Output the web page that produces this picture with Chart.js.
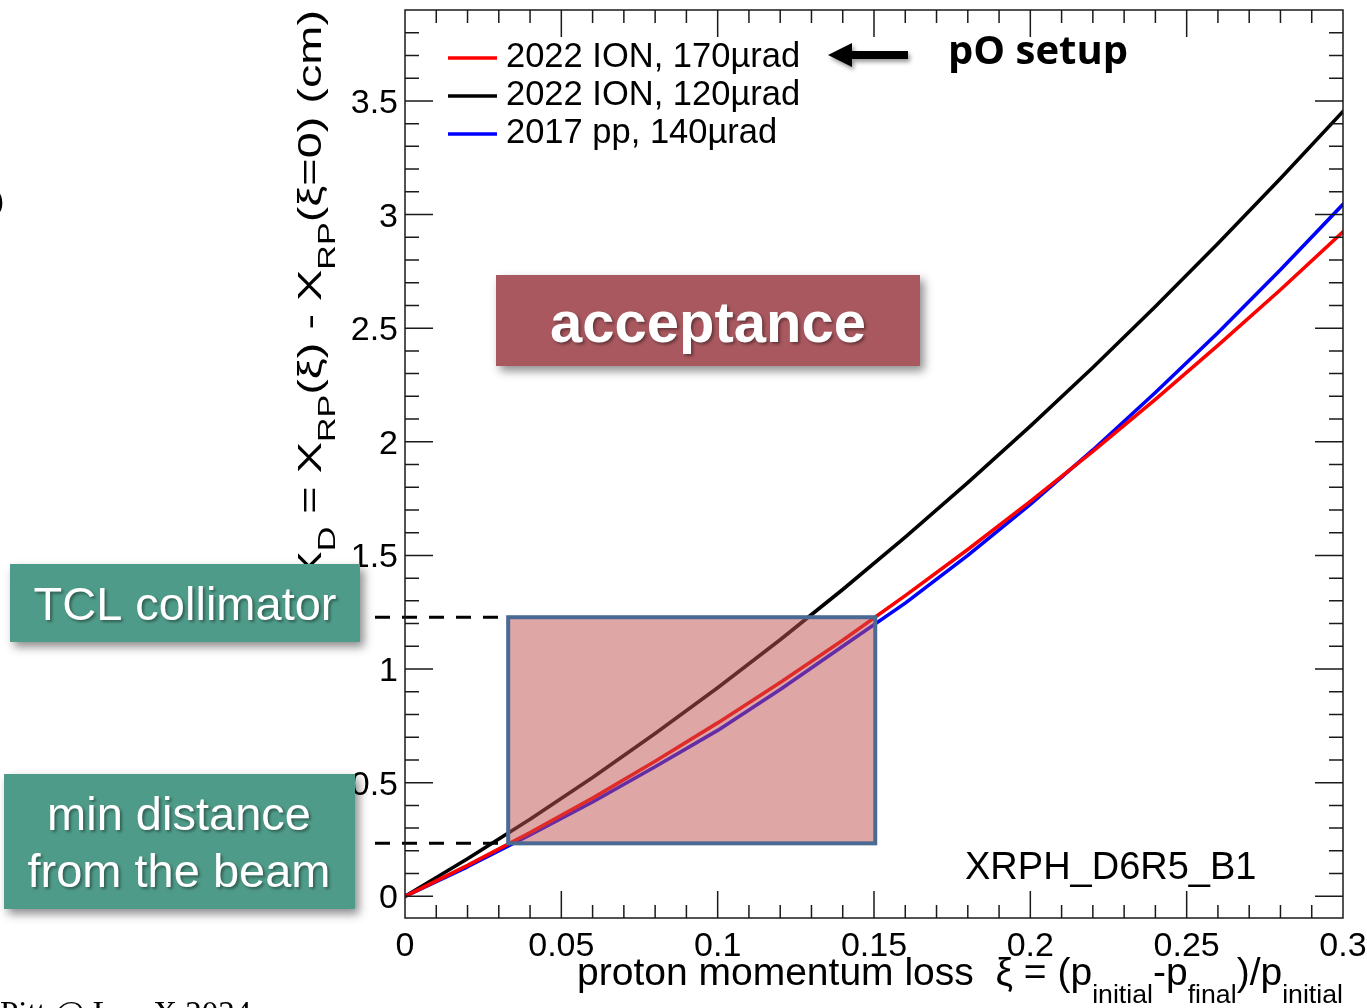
<!DOCTYPE html>
<html>
<head>
<meta charset="utf-8">
<script src="https://cdn.jsdelivr.net/npm/chart.js@4.4.1/dist/chart.umd.min.js"></script>
<style>
  html, body { margin: 0; padding: 0; background: #fff; }
  #wrap { width: 1367px; height: 1008px; overflow: hidden; }
</style>
</head>
<body>
<div id="wrap"><canvas id="xdChart" width="1367" height="1008"></canvas></div>
<script>
// xi values and X_D (cm)
const xi = [0, 0.02, 0.04, 0.06, 0.08, 0.10, 0.12, 0.14, 0.16, 0.18, 0.20, 0.22, 0.24, 0.26, 0.28, 0.30];
const ion170 = [0, 0.136, 0.280, 0.432, 0.594, 0.763, 0.941, 1.127, 1.323, 1.526, 1.738, 1.958, 2.187, 2.424, 2.669, 2.924];
const ion120 = [0, 0.165, 0.339, 0.523, 0.716, 0.918, 1.129, 1.350, 1.581, 1.820, 2.069, 2.327, 2.595, 2.873, 3.159, 3.454];
const pp140 = [0, 0.130, 0.270, 0.415, 0.570, 0.730, 0.910, 1.100, 1.290, 1.500, 1.725, 1.964, 2.217, 2.480, 2.757, 3.045];

const seriesLabels = ['2022 ION, 170µrad', '2022 ION, 120µrad', '2017 pp, 140µrad'];
const seriesColors = ['#ff0000', '#000000', '#0000ff'];
const seriesValues = [ion170, ion120, pp140];
const seriesOrder = [0, 2, 1];

const xMajorTicks = [0, 0.05, 0.1, 0.15, 0.2, 0.25, 0.3];
const xTickLabels = ['0', '0.05', '0.1', '0.15', '0.2', '0.25', '0.3'];
const yMajorTicks = [0, 0.5, 1, 1.5, 2, 2.5, 3, 3.5];
const yTickLabels = ['0', '0.5', '1', '1.5', '2', '2.5', '3', '3.5'];

// acceptance window: xi range and X_D range
const acceptanceXi = [0.033, 0.1504];
const acceptanceXd = [0.233, 1.228];

const SANS = '"Liberation Sans", Arial, Helvetica, sans-serif';

function richWidth(ctx, parts, size, subSize) {
    let w = 0;
    parts.forEach(p => {
        ctx.font = (p.sub ? subSize : size) + 'px ' + SANS;
        w += ctx.measureText(p.t).width;
    });
    return w;
}

function drawRich(ctx, parts, x, y, size, subSize, subShift) {
    let cx = x;
    parts.forEach(p => {
        ctx.font = (p.sub ? subSize : size) + 'px ' + SANS;
        ctx.fillText(p.t, cx, y + (p.sub ? subShift : 0));
        cx += ctx.measureText(p.t).width;
    });
}

function drawBox(ctx, x, y, w, h, color) {
    ctx.save();
    ctx.shadowColor = 'rgba(0,0,0,0.45)';
    ctx.shadowBlur = 9;
    ctx.shadowOffsetX = 4;
    ctx.shadowOffsetY = 5;
    ctx.fillStyle = color;
    ctx.fillRect(x, y, w, h);
    ctx.restore();
}

function whiteText(ctx, text, x, y, font) {
    ctx.save();
    ctx.font = font;
    ctx.fillStyle = '#ffffff';
    ctx.textAlign = 'center';
    ctx.shadowColor = 'rgba(0,0,0,0.4)';
    ctx.shadowBlur = 3;
    ctx.shadowOffsetX = 2;
    ctx.shadowOffsetY = 2;
    ctx.fillText(text, x, y);
    ctx.restore();
}

const rootStyle = {
    id: 'rootStyle',
    afterDatasetsDraw(chart) {
        const ctx = chart.ctx;
        const xs = chart.scales.x;
        const ys = chart.scales.y;
        const area = chart.chartArea;
        ctx.save();

        // translucent acceptance window on top of the curves
        const rx0 = xs.getPixelForValue(acceptanceXi[0]);
        const rx1 = xs.getPixelForValue(acceptanceXi[1]);
        const ry0 = ys.getPixelForValue(acceptanceXd[1]);
        const ry1 = ys.getPixelForValue(acceptanceXd[0]);
        ctx.fillStyle = 'rgba(192,84,82,0.52)';
        ctx.fillRect(rx0, ry0, rx1 - rx0, ry1 - ry0);
        ctx.strokeStyle = '#4a6a94';
        ctx.lineWidth = 4;
        ctx.strokeRect(rx0, ry0, rx1 - rx0, ry1 - ry0);

        // dashed guide lines
        ctx.strokeStyle = '#000';
        ctx.lineWidth = 3;
        ctx.setLineDash([15, 12]);
        [ry0, ry1].forEach(y => {
            ctx.beginPath();
            ctx.moveTo(375, y);
            ctx.lineTo(rx0 - 2, y);
            ctx.stroke();
        });
        ctx.setLineDash([]);

        // frame + inward ticks on all sides
        ctx.strokeStyle = '#1a1a1a';
        ctx.lineWidth = 1.5;
        ctx.strokeRect(area.left, area.top, area.right - area.left, area.bottom - area.top);
        ctx.beginPath();
        for (let i = 1; i < 30; i++) {
            const px = xs.getPixelForValue(i * 0.01);
            const len = i % 5 === 0 ? 27 : 13;
            ctx.moveTo(px, area.bottom); ctx.lineTo(px, area.bottom - len);
            ctx.moveTo(px, area.top); ctx.lineTo(px, area.top + len);
        }
        for (let i = 0; i <= 38; i++) {
            const py = ys.getPixelForValue(i * 0.1);
            const len = i % 5 === 0 ? 28 : 14;
            ctx.moveTo(area.left, py); ctx.lineTo(area.left + len, py);
            ctx.moveTo(area.right, py); ctx.lineTo(area.right - len, py);
        }
        ctx.stroke();

        // tick labels
        ctx.fillStyle = '#000';
        ctx.font = '34px ' + SANS;
        ctx.textAlign = 'center';
        xMajorTicks.forEach((v, i) => {
            ctx.fillText(xTickLabels[i], xs.getPixelForValue(v), 956);
        });
        ctx.textAlign = 'right';
        yMajorTicks.forEach((v, i) => {
            ctx.fillText(yTickLabels[i], 398, ys.getPixelForValue(v) + 12);
        });

        // x title, right aligned to the frame
        ctx.textAlign = 'left';
        const xTitle = [
            { t: 'proton momentum loss  ξ = (p' }, { t: 'initial', sub: 1 },
            { t: '-p' }, { t: 'final', sub: 1 }, { t: ')/p' }, { t: 'initial', sub: 1 }
        ];
        const xw = richWidth(ctx, xTitle, 38, 26);
        const xStretch = (area.right - 577) / xw;
        ctx.save();
        ctx.translate(577, 985);
        ctx.scale(xStretch, 1);
        drawRich(ctx, xTitle, 0, 0, 38, 26, 18);
        ctx.restore();

        // y title, rotated, stretched along its length
        const yTitle = [
            { t: 'X' }, { t: 'D', sub: 1 }, { t: ' = X' }, { t: 'RP', sub: 1 },
            { t: '(ξ) - X' }, { t: 'RP', sub: 1 }, { t: '(ξ=0) (cm)' }
        ];
        ctx.save();
        ctx.translate(321, 10);
        ctx.rotate(-Math.PI / 2);
        ctx.scale(1.42, 1);
        const yw = richWidth(ctx, yTitle, 33, 24);
        drawRich(ctx, yTitle, -yw, 0, 33, 24, 14);
        ctx.restore();

        // legend
        ctx.font = '34.5px ' + SANS;
        ctx.textAlign = 'left';
        const rowY = [58, 96, 134];
        seriesLabels.forEach((label, i) => {
            ctx.strokeStyle = seriesColors[i];
            ctx.lineWidth = 3.5;
            ctx.beginPath();
            ctx.moveTo(448, rowY[i]);
            ctx.lineTo(497, rowY[i]);
            ctx.stroke();
            ctx.fillStyle = '#000';
            ctx.fillText(label, 506, rowY[i] + 9);
        });

        ctx.font = '38px ' + SANS;
        ctx.fillText('XRPH_D6R5_B1', 965, 879);

        // arrow + pO setup
        ctx.save();
        ctx.shadowColor = 'rgba(0,0,0,0.4)';
        ctx.shadowBlur = 4;
        ctx.shadowOffsetX = 2;
        ctx.shadowOffsetY = 3;
        ctx.fillStyle = '#000';
        ctx.beginPath();
        ctx.moveTo(828, 55);
        ctx.lineTo(852, 43);
        ctx.lineTo(852, 51);
        ctx.lineTo(908, 51);
        ctx.lineTo(908, 59);
        ctx.lineTo(852, 59);
        ctx.lineTo(852, 67);
        ctx.closePath();
        ctx.fill();
        ctx.restore();
        ctx.font = 'bold 40px "Open Sans", Lato, sans-serif';
        ctx.fillStyle = '#000';
        ctx.fillText('pO setup', 948, 64);

        // annotation boxes
        drawBox(ctx, 496, 275, 424, 91, '#a9585f');
        whiteText(ctx, 'acceptance', 708, 342, 'bold 58px ' + SANS);
        drawBox(ctx, 10, 564, 350, 78, '#4f9b89');
        whiteText(ctx, 'TCL collimator', 185, 620, '47px ' + SANS);
        drawBox(ctx, 4, 774, 351, 135, '#4f9b89');
        whiteText(ctx, 'min distance', 179, 830, '47px ' + SANS);
        whiteText(ctx, 'from the beam', 179, 887, '47px ' + SANS);

        // bits of neighbouring slide content
        ctx.fillStyle = '#000';
        ctx.textAlign = 'right';
        ctx.font = '28px ' + SANS;
        ctx.fillText(')', 4, 210);
        ctx.textAlign = 'left';
        ctx.font = '33px "Liberation Serif", "Times New Roman", serif';
        ctx.fillText('Pitt @ LowX 2024', 0, 1024);

        ctx.restore();
    }
};

const chartCtx = document.getElementById('xdChart').getContext('2d');
new Chart(chartCtx, {
    type: 'line',
    data: {
        datasets: seriesLabels.map((label, i) => ({
            label: label,
            data: xi.map((x, j) => ({ x: x, y: seriesValues[i][j] })),
            borderColor: seriesColors[i],
            borderWidth: 3.6,
            borderCapStyle: 'round',
            borderJoinStyle: 'round',
            pointRadius: 0,
            fill: false,
            tension: 0,
            order: seriesOrder[i]
        }))
    },
    options: {
        responsive: false,
        animation: false,
        events: [],
        layout: { padding: { left: 405, top: 10, right: 24, bottom: 90 } },
        scales: {
            x: { type: 'linear', min: 0, max: 0.3, display: false },
            y: { type: 'linear', min: -0.0955, max: 3.9, display: false }
        },
        plugins: {
            legend: { display: false },
            tooltip: { enabled: false }
        }
    },
    plugins: [rootStyle]
});
</script>
</body>
</html>
